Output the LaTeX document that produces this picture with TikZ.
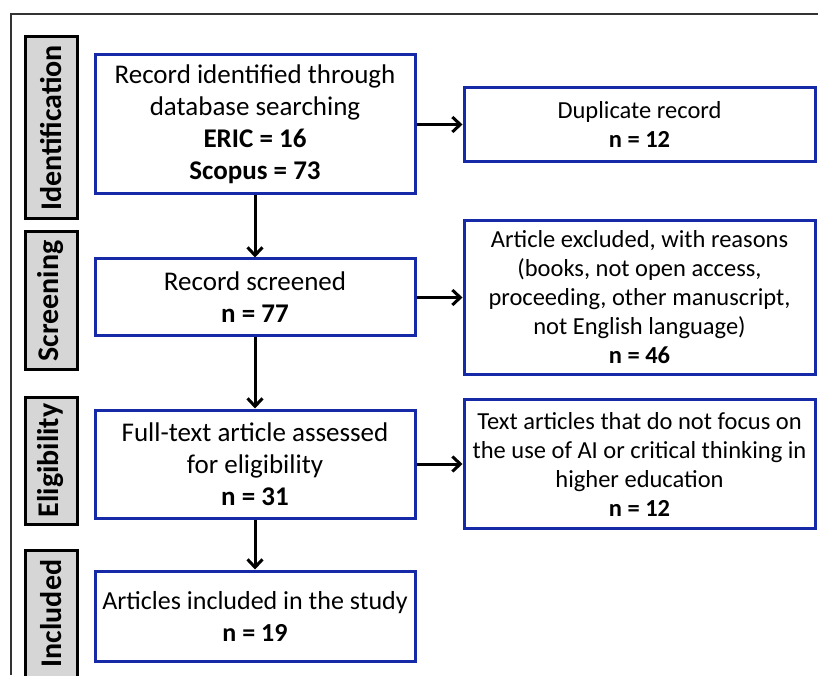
\documentclass[tikz,border=0pt]{standalone}
\usepackage{fontspec}
\setmainfont{Carlito}
\usetikzlibrary{positioning,arrows.meta}
\definecolor{boxblue}{RGB}{22,42,168}
\definecolor{phasegray}{RGB}{214,214,214}
\begin{document}
\begin{tikzpicture}[x=1pt, y=1pt, font=\fontsize{27}{32}\selectfont]
% Define flow styles
\tikzstyle{stagebox} = [rectangle, draw=boxblue, line width=3pt, fill=white, align=center, inner sep=2pt, minimum width=320pt]
\tikzstyle{reasonbox} = [rectangle, draw=boxblue, line width=3pt, fill=white, align=center, inner sep=2pt, minimum width=351pt, font=\fontsize{24.5}{29}\selectfont]
\tikzstyle{phase} = [rectangle, draw=black, line width=3pt, fill=phasegray, rotate=90, minimum height=52pt, inner sep=0pt, font=\fontsize{30}{32}\selectfont\bfseries]
\tikzstyle{arrow} = [-{Straight Barb[length=8pt,width=15pt]}, line width=3pt, draw=black]

\useasboundingbox (0,0) rectangle (818,675);
\draw[line width=1.5pt, draw=black!80] (11,0) -- (11,661) -- (818,661);

% Define main stages
\node[stagebox, minimum height=139pt] (ident) at (255,550.5) {Record identified through\\database searching\\\textbf{ERIC = 16}\\\textbf{Scopus = 73}};
\node[stagebox, minimum height=77pt, below=62pt of ident] (screen) {Record screened\\\textbf{n = 77}};
\node[stagebox, minimum height=108pt, below=71pt of screen] (elig) {Full-text article assessed\\for eligibility\\\textbf{n = 31}};
\node[stagebox, minimum height=90pt, below=50pt of elig, font=\fontsize{26}{32}\selectfont] (incl) {Articles included in the study\\\textbf{n = 19}};

% Define excluded records
\node[reasonbox, minimum height=74pt, right=46pt of ident] (dupl) {Duplicate record\\\textbf{n = 12}};
\node[reasonbox, minimum height=154pt, right=46pt of screen] (excl) {Article excluded, with reasons\\(books, not open access,\\proceeding, other manuscript,\\not English language)\\\textbf{n = 46}};
\node[reasonbox, minimum height=129pt, right=46pt of elig] (nofocus) {Text articles that do not focus on\\the use of AI or critical thinking in\\higher education\\\textbf{n = 12}};

% Define phase labels (xshift moves along the rotated text)
\node[phase, minimum width=182pt, left=15pt of ident, anchor=south, xshift=-3.5pt] (lblident) {Identification};
\node[phase, minimum width=138pt, left=15pt of screen, anchor=south, xshift=-3.5pt] (lblscreen) {Screening};
\node[phase, minimum width=127pt, left=15pt of elig, anchor=south, xshift=3.5pt] (lblelig) {Eligibility};
\node[phase, minimum width=127pt, left=15pt of incl, anchor=south, xshift=2.5pt] (lblincl) {Included};

% Relationships (arrows)
\draw[arrow] (ident) -- (screen);
\draw[arrow] (screen) -- (elig);
\draw[arrow] (elig) -- (incl);
\draw[arrow] (ident) -- (dupl);
\draw[arrow] (screen) -- (excl);
\draw[arrow] (elig) -- (nofocus);

\end{tikzpicture}
\end{document}
